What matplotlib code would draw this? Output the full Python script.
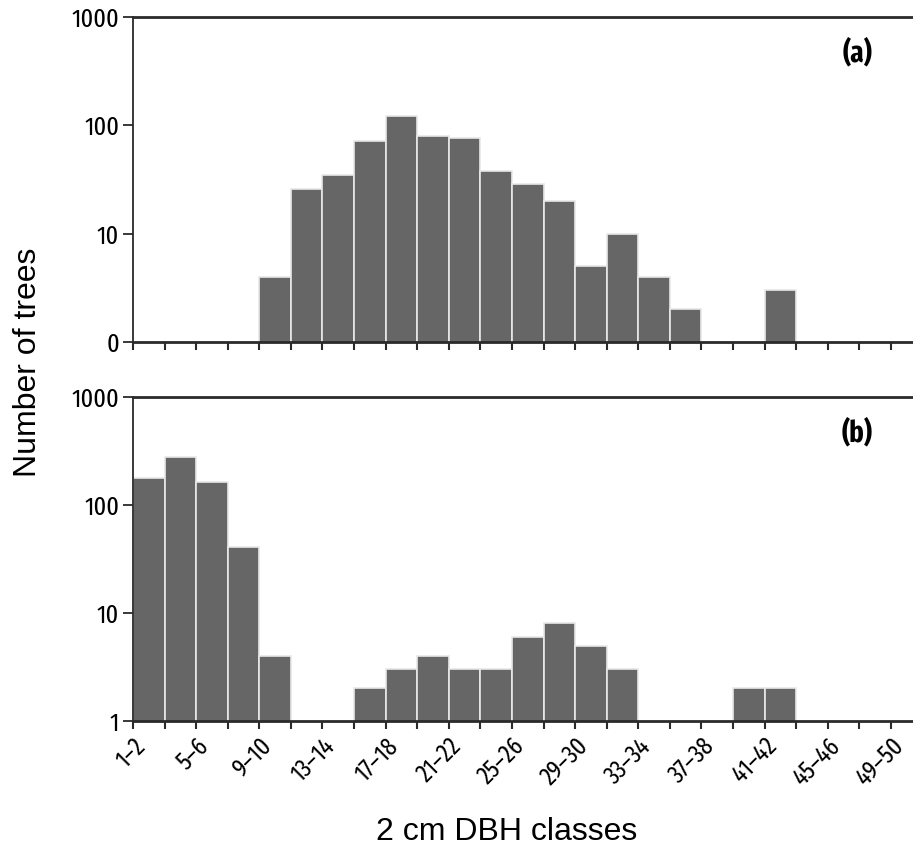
import numpy as np
import matplotlib
matplotlib.use("Agg")
import matplotlib.pyplot as plt
from matplotlib.ticker import FixedLocator, FixedFormatter, NullLocator

classes = ["1–2", "3–4", "5–6", "7–8", "9–10", "11–12", "13–14", "15–16",
           "17–18", "19–20", "21–22", "23–24", "25–26", "27–28", "29–30",
           "31–32", "33–34", "35–36", "37–38", "39–40", "41–42", "43–44",
           "45–46", "47–48", "49–50"]

trees_a = [0, 0, 0, 0, 4, 26, 35, 71, 121, 80, 76, 38, 29, 20, 5,
           10, 4, 2, 0, 0, 3, 0, 0, 0, 0]
trees_b = [176, 281, 165, 41, 4, 0, 0, 2, 3, 4, 3, 3, 6, 8, 5,
           3, 0, 0, 0, 2, 2, 0, 0, 0, 0]

yticks = [1, 10, 100, 1000]
ylabels_a = ["0", "10", "100", "1000"]
ylabels_b = ["1", "10", "100", "1000"]
panel_labels = ["(a)", "(b)"]

NARROW = ["Fira Sans Extra Condensed", "Open Sans Condensed", "Asap Condensed",
          "Archivo Narrow", "DejaVu Sans"]
BAR = "#666666"
EDGE = "#e8e8e8"
SPINE = "#2a2a2a"

fig = plt.figure(figsize=(9.13, 8.48), dpi=100)
W, H = 913, 848
left = 133 / W
width = 1 - left
ax_a = fig.add_axes([left, 1 - 342 / H, width, 325 / H])
ax_b = fig.add_axes([left, 1 - 721 / H, width, 324 / H])

x = np.arange(len(classes))
for ax, vals, ylabs, plab in [(ax_a, trees_a, ylabels_a, panel_labels[0]),
                              (ax_b, trees_b, ylabels_b, panel_labels[1])]:
    v = np.array(vals, dtype=float)
    m = v > 0
    ax.set_yscale("log")
    ax.bar(x[m], v[m], width=1.0, align="edge", color=BAR,
           edgecolor=EDGE, linewidth=1.2, zorder=2)
    ax.set_ylim(1, 1000)
    ax.set_xlim(0, 24.7)
    ax.yaxis.set_major_locator(FixedLocator(yticks))
    ax.yaxis.set_major_formatter(FixedFormatter(ylabs))
    ax.yaxis.set_minor_locator(NullLocator())
    ax.spines["right"].set_visible(False)
    for s in ["left", "top", "bottom"]:
        ax.spines[s].set_color(SPINE)
        ax.spines[s].set_zorder(3)
    ax.spines["left"].set_linewidth(1.3)
    ax.spines["top"].set_linewidth(2.0)
    ax.spines["bottom"].set_linewidth(2.0)
    ax.tick_params(axis="y", which="major", length=7, width=1.3,
                   color=SPINE, pad=3, labelsize=19)
    ax.tick_params(axis="x", which="both", length=6, width=1.5,
                   color=SPINE, direction="out")
    ax.set_xticks(x[::2])
    ax.set_xticks(x[1::2], minor=True)
    for lab in ax.get_yticklabels():
        lab.set_family(NARROW)
    ax.text(0.929, 0.89, plab, transform=ax.transAxes, ha="center",
            va="center", fontsize=21, fontweight="bold", family=NARROW)

ax_a.set_xticklabels([])
ax_b.set_xticklabels(classes[::2], rotation=45, ha="right", va="top",
                     rotation_mode="anchor", fontsize=18, family=NARROW)
ax_b.tick_params(axis="x", which="major", pad=3)

fig.text(28 / W, 1 - 362 / H, "Number of trees", rotation=90,
         ha="center", va="center", fontsize=23, family="Liberation Sans")
fig.text(507 / W, 1 - 832 / H, "2 cm DBH classes", ha="center",
         va="center", fontsize=23, family="Liberation Sans")

fig.savefig("out.png", dpi=100)
